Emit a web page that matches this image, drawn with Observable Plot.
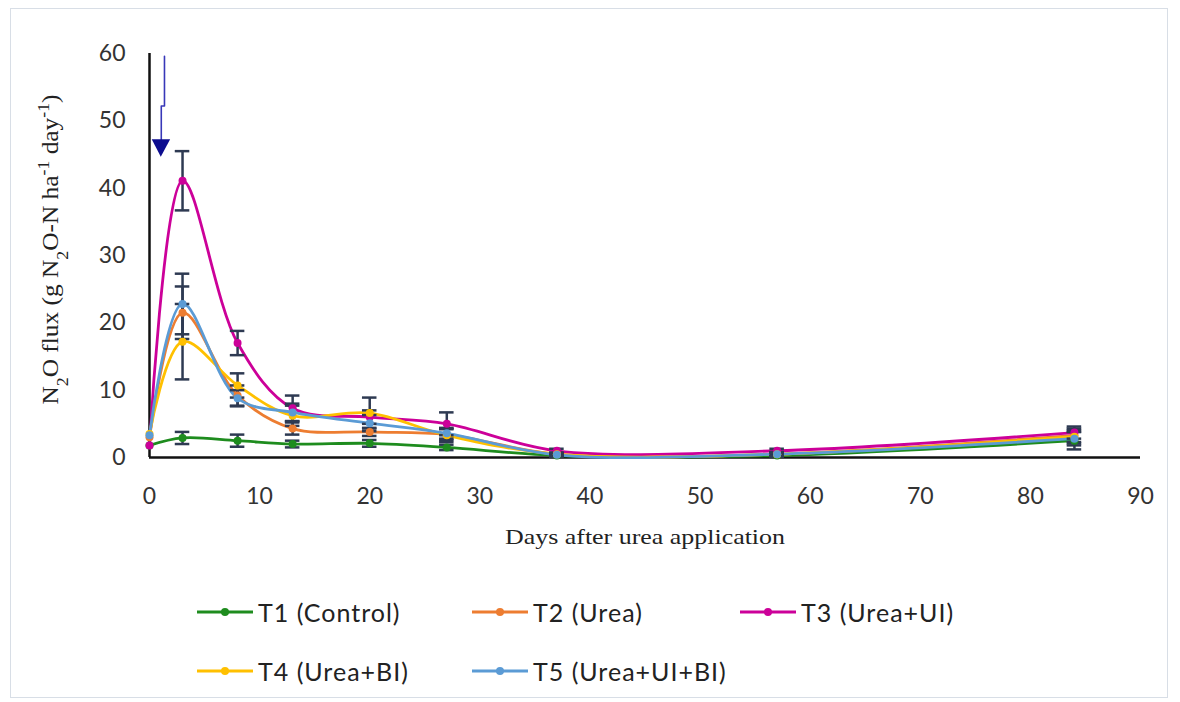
<!DOCTYPE html>
<html>
<head>
<meta charset="utf-8">
<script src="https://cdn.jsdelivr.net/npm/d3@7"></script>
<script src="https://cdn.jsdelivr.net/npm/@observablehq/plot@0.6"></script>
<style>
  html, body { margin: 0; padding: 0; background: #fff; }
  #wrap { position: relative; width: 1180px; height: 702px; overflow: hidden; }
  #frame { position: absolute; left: 10px; top: 8px; width: 1158px; height: 690px; border: 1px solid #d8dee6; box-sizing: border-box; }
  #chart { position: absolute; left: 0; top: 0; }
  #legend { position: absolute; left: 197px; top: 582px; display: grid; grid-template-columns: 275px 268px auto; grid-auto-rows: 59px; font-family: Lato, "Open Sans", sans-serif; font-size: 25px; letter-spacing: 1px; color: #222; }
  .item { display: flex; align-items: center; white-space: nowrap; }
  .item svg { margin-right: 5px; }
</style>
</head>
<body>
<div id="wrap">
  <div id="frame"></div>
  <div id="chart"></div>
  <div id="legend"></div>
</div>
<script>
// ---- data ----
const days = [0, 3, 8, 13, 20, 27, 37, 57, 84];
const seriesNames = ["T1 (Control)", "T2 (Urea)", "T3 (Urea+UI)", "T4 (Urea+BI)", "T5 (Urea+UI+BI)"];
const seriesColors = ["#1e8c1e", "#ed7d31", "#cc0099", "#ffc000", "#5b9bd5"];
const t1 = [1.8, 2.9, 2.5, 2.0, 2.1, 1.5, 0.3, 0.3, 2.5];
const t2 = [3.0, 21.5, 9.2, 4.3, 3.8, 3.4, 0.5, 0.5, 3.3];
const t3 = [1.8, 41.1, 17.0, 7.3, 6.0, 5.0, 1.0, 1.0, 3.7];
const t4 = [3.5, 17.2, 10.7, 6.2, 6.6, 3.3, 0.5, 0.5, 3.1];
const t5 = [3.3, 22.8, 8.8, 6.7, 5.1, 3.6, 0.4, 0.5, 2.8];
// standard errors (half-length of error bars)
const e1 = [0, 0.9, 0.9, 0.5, 0.5, 0.4, 0.2, 0.2, 1.3];
const e2 = [0, 3.9, 1.5, 0.9, 0.6, 0.8, 0.2, 0.3, 1.0];
const e3 = [0, 4.4, 1.8, 1.9, 1.0, 1.7, 0.3, 0.3, 0.9];
const e4 = [0, 5.6, 1.8, 1.5, 2.3, 1.0, 0.2, 0.3, 1.0];
const e5 = [0, 4.5, 1.2, 1.3, 1.2, 0.8, 0.2, 0.3, 1.0];
const xTicks = [0, 10, 20, 30, 40, 50, 60, 70, 80, 90];
const yTicks = [0, 10, 20, 30, 40, 50, 60];
const xLabel = "Days after urea application";
const yLabel = "N2O flux (g N2O-N ha-1 day-1)";
// application arrow (annotation, in data units)
const arrowLine = [{x: 1.36, y: 59.6}, {x: 1.36, y: 52.2}, {x: 1.07, y: 52.2}, {x: 1.07, y: 47.0}];
const arrowHead = [{x: 0.25, y1: 47.2}, {x: 1.07, y1: 44.6}, {x: 1.92, y1: 47.2}];

// ---- build table ----
const values = [t1, t2, t3, t4, t5];
const errs = [e1, e2, e3, e4, e5];
const rows = [];
seriesNames.forEach((s, i) => days.forEach((d, j) => rows.push({series: s, day: d, value: values[i][j], err: errs[i][j]})));
const errRows = rows.filter(r => r.err > 0);
const capHalf = 0.66; // days

const errColor = "#2e3a52";
const plot = Plot.plot({
  width: 1180,
  height: 560,
  marginLeft: 149,
  marginRight: 40,
  marginTop: 53,
  marginBottom: 103,
  style: {fontFamily: "Lato, 'Open Sans', sans-serif", background: "transparent"},
  x: {domain: [0, 90]},
  y: {domain: [0, 60]},
  color: {domain: seriesNames, range: seriesColors},
  marks: [
    Plot.axisX({ticks: xTicks, tickSize: 0, tickPadding: 30, fontSize: 23, label: null, color: "#333"}),
    Plot.axisY({ticks: yTicks, tickSize: 0, tickPadding: 24, fontSize: 23, label: null, color: "#333"}),
    Plot.ruleX([0], {stroke: "#111", strokeWidth: 2.5}),
    Plot.ruleY([0], {stroke: "#111", strokeWidth: 2.5}),
    Plot.line(rows, {x: "day", y: "value", z: "series", stroke: "series", curve: "catmull-rom", strokeWidth: 2.8}),
    Plot.ruleX(errRows, {x: "day", y1: d => d.value - d.err, y2: d => d.value + d.err, stroke: errColor, strokeWidth: 2.5}),
    Plot.ruleY(errRows, {y: d => d.value + d.err, x1: d => d.day - capHalf, x2: d => d.day + capHalf, stroke: errColor, strokeWidth: 2.5}),
    Plot.ruleY(errRows, {y: d => d.value - d.err, x1: d => d.day - capHalf, x2: d => d.day + capHalf, stroke: errColor, strokeWidth: 2.5}),
    Plot.dot(rows, {x: "day", y: "value", fill: "series", r: 4}),
    Plot.line(arrowLine, {x: "x", y: "y", stroke: "#3838b8", strokeWidth: 1.6, curve: "linear"}),
    Plot.areaY(arrowHead, {x: "x", y1: "y1", y2: 47.2, fill: "#0d0d8f", curve: "linear"}),
    Plot.text([xLabel], {text: d => d, frameAnchor: "bottom", dy: 86, fontSize: 22, fontFamily: "'Liberation Serif', serif", fill: "#222"}),
    Plot.text([yLabel], {text: d => d, frameAnchor: "left", textAnchor: "middle", dx: -99, dy: -6, rotate: -90, fontSize: 24, fontFamily: "'Liberation Serif', serif", fill: "#222"})
  ]
});
document.getElementById("chart").appendChild(plot);

// sub/superscripts in the y label, and width matching
d3.select(plot).selectAll("text").filter(function() { return this.textContent === yLabel; }).each(function() {
  const t = d3.select(this);
  t.text(null);
  const parts = [["N"], ["2", "sub"], ["O flux (g N"], ["2", "sub"], ["O-N ha"], ["-1", "super"], [" day"], ["-1", "super"], [")"]];
  parts.forEach(([s, k]) => {
    const ts = t.append("tspan").text(s);
    if (k) ts.attr("baseline-shift", k).attr("font-size", "70%");
  });
  t.attr("textLength", 310).attr("lengthAdjust", "spacingAndGlyphs");
});
d3.select(plot).selectAll("text").filter(function() { return this.textContent === xLabel; })
  .attr("textLength", 280).attr("lengthAdjust", "spacingAndGlyphs");

// legend
const legend = d3.select("#legend");
seriesNames.forEach((name, i) => {
  const it = legend.append("div").attr("class", "item");
  const sv = it.append("svg").attr("width", 56).attr("height", 12);
  sv.append("line").attr("x1", 0).attr("x2", 56).attr("y1", 6).attr("y2", 6).attr("stroke", seriesColors[i]).attr("stroke-width", 3);
  sv.append("circle").attr("cx", 28).attr("cy", 6).attr("r", 4).attr("fill", seriesColors[i]);
  it.append("span").text(name);
});
</script>
</body>
</html>
